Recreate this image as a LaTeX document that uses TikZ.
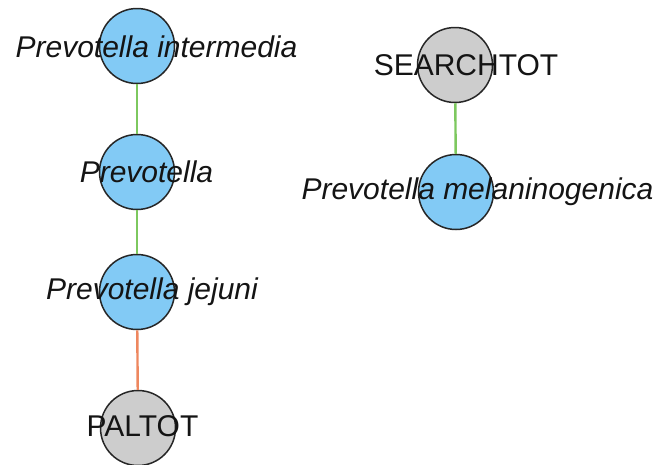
\documentclass[tikz,border=0pt]{standalone}
\usepackage{fontspec}
\setmainfont{Liberation Sans}
\definecolor{nodeblue}{RGB}{130,202,245}
\definecolor{nodegray}{RGB}{205,205,205}
\definecolor{edgegreen}{RGB}{125,200,95}
\definecolor{edgeorange}{RGB}{238,135,95}
\definecolor{txt}{RGB}{20,20,20}
\tikzset{
  vert/.style={circle, draw=black!85, line width=1.5pt, minimum size=75pt, inner sep=0pt},
  taxon/.style={vert, fill=nodeblue},
  meta/.style={vert, fill=nodegray},
  lab/.style={font=\fontsize{30}{31}\selectfont, text=txt, inner sep=0pt},
  tlab/.style={lab, font=\fontsize{30}{31}\selectfont\itshape},
  gedge/.style={draw=edgegreen, line width=2.4pt},
  oedge/.style={draw=edgeorange, line width=2.4pt}
}
\begin{document}
\begin{tikzpicture}[x=1pt,y=1pt]
\useasboundingbox (0,0) rectangle (663,-464);
\node[taxon] (pi) at (137,-46) {};
\node[taxon] (p)  at (137,-172) {};
\node[taxon] (pj) at (137,-292) {};
\node[meta]  (pal) at (138,-428) {};
\node[meta]  (st) at (455,-65) {};
\node[taxon] (pm) at (456,-192) {};
\draw[gedge] (pi) -- (p);
\draw[gedge] (p) -- (pj);
\draw[oedge] (pj) -- (pal);
\draw[gedge] (st) -- (pm);
\node[tlab] (lpi) at (156.5,-47) {Prevotella intermedia};
\node[tlab] (lp) at (146.5,-172) {Prevotella};
\node[tlab] (lpj) at (152,-292) {Prevotella jejuni};
\node[lab] (lpal) at (142.5,-426) {PALTOT};
\node[lab] (lst) at (466,-65) {SEARCHTOT};
\node[tlab] (lpm) at (477.5,-192) {Prevotella melaninogenica};
\end{tikzpicture}
\end{document}
